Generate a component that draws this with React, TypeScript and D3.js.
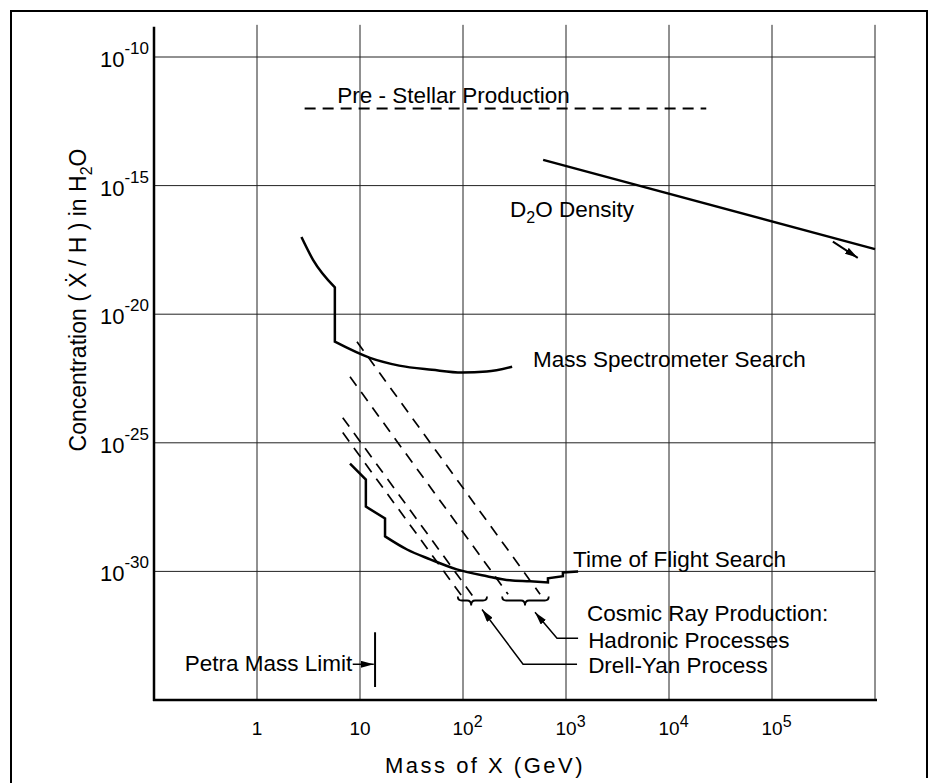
import React from "react";
import * as d3 from "d3";

type Pt = [number, number];

// decades on the axes
const xTicks = [1, 10, 1e2, 1e3, 1e4, 1e5];
const xGrid = [1, 10, 1e2, 1e3, 1e4, 1e5, 1e6];
const yTicks = [1e-10, 1e-15, 1e-20, 1e-25, 1e-30];

// Mass spectrometer search limit (before and after the drop at ~6 GeV)
const massSpecUpper: Pt[] = [[2.7, 1e-17], [3.5, 1.3e-18], [5.7, 1.1e-19]];
const massSpecLower: Pt[] = [
  [5.7, 8.5e-22], [12.5, 2.0e-22], [24, 1.0e-22], [50, 6.9e-23],
  [98, 5.4e-23], [170, 5.9e-23], [300, 9.1e-23],
];

// Time of flight search limit
const tofSteps: Pt[] = [
  [8.0, 1.55e-26], [11.4, 3.7e-27], [11.4, 3.3e-28], [17.5, 1.15e-28], [17.5, 2.3e-29],
];
const tofCurve: Pt[] = [
  [17.5, 2.3e-29], [28.6, 7.1e-30], [48, 2.95e-30], [87, 1.2e-30],
  [171, 6.5e-31], [286, 4.5e-31], [447, 4.1e-31], [668, 3.7e-31],
];
const tofTail: Pt[] = [
  [668, 3.7e-31], [668, 5.4e-31], [933, 6.5e-31], [933, 9.1e-31], [1310, 1.0e-30],
];

const preStellar: Pt[] = [[2.9, 1e-12], [2.3e4, 1e-12]];
const d2oDensity: Pt[] = [[600, 1e-14], [1e6, 3.4e-18]];

// cosmic ray production estimates
const hadronic: Pt[][] = [
  [[9.35, 8.5e-22], [560, 1.29e-31]],
  [[8.0, 3.7e-23], [274, 1.29e-31]],
];
const drellYan: Pt[][] = [
  [[6.8, 9.5e-25], [125, 1.07e-31]],
  [[6.8, 2.5e-25], [98, 1.07e-31]],
];
const braces = [
  { from: 89, mid: 120, to: 171, c: 7.4e-32 },
  { from: 240, mid: 400, to: 680, c: 7.4e-32 },
];

// annotation arrows, tip first
const drellYanArrow: Pt[] = [[153, 3.3e-32], [383, 2.45e-34], [1280, 2.45e-34]];
const hadronicArrow: Pt[] = [[500, 2.57e-32], [818, 2.5e-33], [1310, 2.5e-33]];
const d2oArrow: Pt[] = [[6.8e5, 1.55e-18], [3.9e5, 6.6e-18]];
const petraArrow: Pt[] = [[13.6, 2.45e-34], [8.5, 2.45e-34]];
const petraLimit: Pt[] = [[14, 4.3e-33], [14, 3.2e-35]];

const labels = [
  { text: "Pre - Stellar Production", x: 6.0, y: 1.6e-12 },
  { text: "Mass Spectrometer Search", x: 479, y: 9.1e-23 },
  { text: "Time of Flight Search", x: 1170, y: 1.45e-30 },
  { text: "Cosmic Ray Production:", x: 1600, y: 1.15e-32 },
  { text: "Hadronic Processes", x: 1640, y: 1.02e-33 },
  { text: "Drell-Yan Process", x: 1640, y: 1.1e-34 },
];

const FONT = "'Liberation Sans', Arial, sans-serif";

const App = () => {
  const x = d3.scaleLog().domain([0.1, 1e6]).range([154, 875]);
  const y = d3.scaleLog().domain([1e-35, 1e-10]).range([700, 57]);
  const yTop = y(Math.pow(10, -8.75));

  const line = d3.line<Pt>().x((d) => x(d[0])).y((d) => y(d[1]));
  const smooth = d3
    .line<Pt>()
    .x((d) => x(d[0]))
    .y((d) => y(d[1]))
    .curve(d3.curveMonotoneX);
  const join = (...parts: (string | null)[]) =>
    parts.map((p, i) => (i === 0 ? p : (p || "").replace(/^M/, "L"))).join("");

  const [x0, x1] = x.range();
  const y0 = y(1e-35);

  return (
    <svg
      width={938}
      height={783}
      style={{ position: "absolute", left: 0, top: 0, background: "#fff" }}
      fontFamily={FONT}
    >
      <defs>
        <marker
          id="ah"
          viewBox="0 0 13 7"
          refX={13}
          refY={3.5}
          markerWidth={13}
          markerHeight={7}
          markerUnits="userSpaceOnUse"
          orient="auto-start-reverse"
        >
          <path d="M0,0L13,3.5L0,7z" fill="#000" />
        </marker>
      </defs>

      {/* outer frame */}
      <path d="M11,783 L11,11 L927,11 L927,778" fill="none" stroke="#000" strokeWidth={2} />

      {/* grid */}
      {xGrid.map((v) => (
        <line key={"gx" + v} x1={x(v)} x2={x(v)} y1={yTop} y2={y0} stroke="#222" strokeWidth={1} />
      ))}
      {yTicks.map((v) => (
        <line key={"gy" + v} x1={x0} x2={x1} y1={y(v)} y2={y(v)} stroke="#222" strokeWidth={1} />
      ))}

      {/* axes */}
      <line x1={x0} x2={x0} y1={yTop + 2} y2={y0 + 1} stroke="#000" strokeWidth={2.5} />
      <line x1={x0 - 1} x2={x1 + 2} y1={y0} y2={y0} stroke="#000" strokeWidth={2.5} />

      {/* y tick labels */}
      {yTicks.map((v) => (
        <text key={"ty" + v} x={149} y={y(v) + 10} textAnchor="end" fontSize={22}>
          10
          <tspan fontSize={17} dy={-13}>
            {"-" + Math.round(-Math.log10(v))}
          </tspan>
        </text>
      ))}

      {/* x tick labels */}
      {xTicks.map((v) => {
        const e = Math.round(Math.log10(v));
        if (e < 2)
          return (
            <text key={"tx" + v} x={x(v)} y={735} textAnchor="middle" fontSize={19}>
              {String(v)}
            </text>
          );
        return (
          <text key={"tx" + v} x={x(v) - 10.5} y={735} fontSize={19}>
            10
            <tspan fontSize={16} dy={-8}>
              {e}
            </tspan>
          </text>
        );
      })}

      {/* axis titles */}
      <text x={485} y={773} textAnchor="middle" fontSize={22} letterSpacing={2.5}>
        Mass of X (GeV)
      </text>
      <text transform="translate(86,300) rotate(-90)" textAnchor="middle" fontSize={23}>
        {"Concentration ( \u1E8A / H ) in H"}
        <tspan fontSize={16} dy={6}>2</tspan>
        <tspan dy={-6}>O</tspan>
      </text>

      {/* curves */}
      <path d={join(smooth(massSpecUpper), smooth(massSpecLower))} fill="none" stroke="#000" strokeWidth={2.5} />
      <path d={join(line(tofSteps), smooth(tofCurve), line(tofTail))} fill="none" stroke="#000" strokeWidth={2.5} />
      <path d={line(preStellar) || ""} fill="none" stroke="#000" strokeWidth={2} strokeDasharray="11,7" />
      <path d={line(d2oDensity) || ""} fill="none" stroke="#000" strokeWidth={2.5} />
      {[...hadronic, ...drellYan].map((l, i) => (
        <path key={"dl" + i} d={line(l) || ""} fill="none" stroke="#000" strokeWidth={1.7} strokeDasharray="11,8" />
      ))}

      {/* braces */}
      {braces.map((b, i) => {
        const a = x(b.from), m = x(b.mid), c = x(b.to), yy = y(b.c);
        return (
          <path
            key={"br" + i}
            d={`M${a},${yy - 4} Q${a},${yy} ${a + 4},${yy} L${m - 4},${yy} Q${m},${yy} ${m},${yy + 5} Q${m},${yy} ${m + 4},${yy} L${c - 4},${yy} Q${c},${yy} ${c},${yy - 4}`}
            fill="none"
            stroke="#000"
            strokeWidth={1.8}
          />
        );
      })}

      {/* annotation arrows */}
      {[drellYanArrow, hadronicArrow, petraArrow].map((a, i) => (
        <path key={"ar" + i} d={line(a) || ""} fill="none" stroke="#000" strokeWidth={1.5} markerStart="url(#ah)" />
      ))}
      <path d={line(d2oArrow) || ""} fill="none" stroke="#000" strokeWidth={2} markerStart="url(#ah)" />
      <path d={line(petraLimit) || ""} fill="none" stroke="#000" strokeWidth={2} />

      {/* labels */}
      {labels.map((l) => (
        <text key={l.text} x={x(l.x)} y={y(l.y)} fontSize={22.5}>
          {l.text}
        </text>
      ))}
      <text x={x(286)} y={y(6.2e-17)} fontSize={22.5}>
        D
        <tspan fontSize={16} dy={6}>2</tspan>
        <tspan dy={-6}>O Density</tspan>
      </text>
      <text x={x(8.4)} y={y(1.3e-34)} textAnchor="end" fontSize={22.5}>
        Petra Mass Limit
      </text>
    </svg>
  );
};

export default App;
